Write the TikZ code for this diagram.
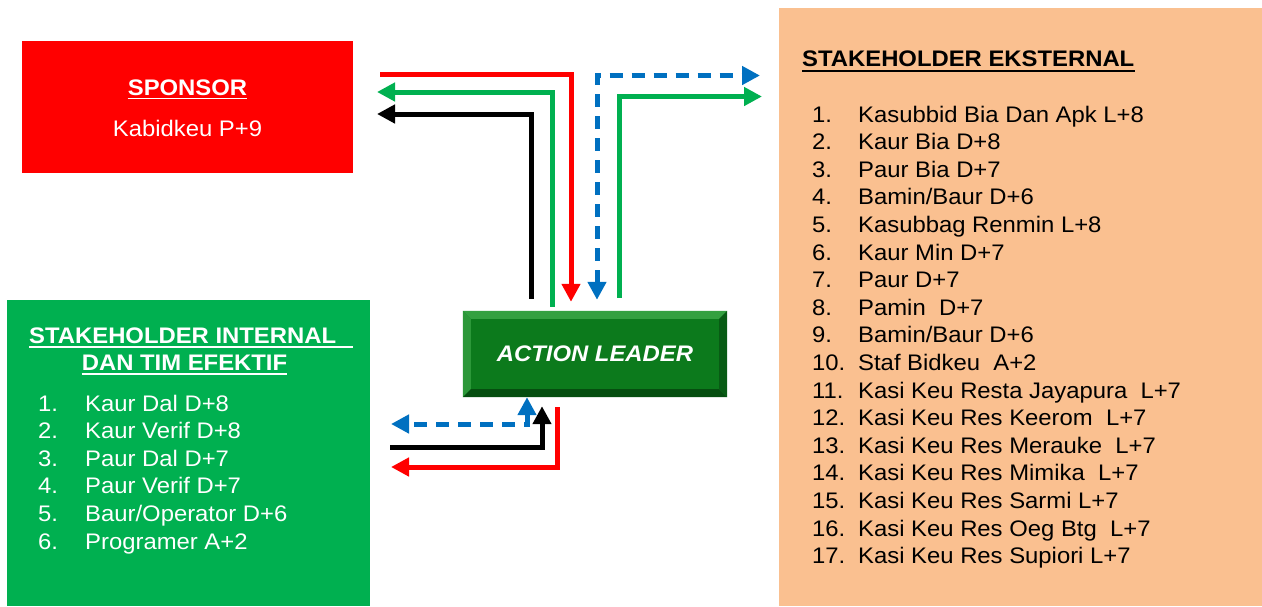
\documentclass[tikz,border=0pt]{standalone}
\usepackage{fontspec}
\setmainfont{Liberation Sans}[FakeStretch=1.06]
\usetikzlibrary{arrows.meta}
\definecolor{merahsp}{RGB}{255,0,0}
\definecolor{hijaukotak}{RGB}{0,176,80}
\definecolor{oranyemuda}{RGB}{250,192,144}
\definecolor{birupanah}{RGB}{0,112,192}
\definecolor{hijautua}{RGB}{12,122,28}
\definecolor{hijauterang}{RGB}{52,160,64}
\definecolor{hijaugelap}{RGB}{6,78,16}
\tikzset{
  kotak/.style={inner sep=0, draw=none},
  tulisan/.style={inner sep=0, anchor=base west},
  garisbawah/.style={line width=1.6pt},
  panah/.style={line width=5pt, -{Triangle[length=18pt,width=18pt]}},
  panahputus/.style={line width=5pt, dash pattern=on 13pt off 9pt,
    {Triangle[length=18pt,width=18pt]}-{Triangle[length=18pt,width=18pt]}}
}
\begin{document}
\begin{tikzpicture}[x=1pt, y=-1pt, font=\fontsize{22.5}{27}\selectfont]
		\useasboundingbox (0,0) rectangle (1262,606);
		% kotak-kotak
		\node[kotak, fill=merahsp, minimum width=331pt, minimum height=132pt] (sponsor) at (187.5,107) {};
		\node[kotak, fill=hijaukotak, minimum width=363pt, minimum height=306pt] (internal) at (188.5,453) {};
		\node[kotak, fill=oranyemuda, minimum width=483pt, minimum height=598pt] (eksternal) at (1020.5,307) {};
		\node[kotak, fill=hijautua, minimum width=264pt, minimum height=86pt] (leader) at (595,354) {};
		% bevel action leader
		\fill[hijauterang] (leader.north west) -- (leader.north east) -- ++(-8,8) -- ([xshift=8pt,yshift=-8pt]leader.north west) -- cycle;
		\fill[hijauterang!80!hijautua] (leader.north west) -- ([xshift=8pt,yshift=-8pt]leader.north west) -- ([xshift=8pt,yshift=8pt]leader.south west) -- (leader.south west) -- cycle;
		\fill[hijaugelap] (leader.south west) -- (leader.south east) -- ++(-8,-8) -- ([xshift=8pt,yshift=8pt]leader.south west) -- cycle;
		\fill[hijaugelap!70!hijautua] (leader.north east) -- ([xshift=-8pt,yshift=-8pt]leader.north east) -- ([xshift=-8pt,yshift=8pt]leader.south east) -- (leader.south east) -- cycle;
		\node[inner sep=0, text=white, font=\fontsize{22.5}{27}\selectfont\bfseries\itshape] (aksi) at (leader.center) {ACTION LEADER};
		% sponsor
		\node[inner sep=0, anchor=base, text=white, font=\fontsize{22.5}{27}\selectfont\bfseries] (judulsp) at (187.5,95) {SPONSOR};
		\draw[garisbawah, white] ([yshift=-3.5pt]judulsp.base west) -- ([yshift=-3.5pt]judulsp.base east);
		\node[inner sep=0, anchor=base, text=white] (kabid) at (187.5,136) {Kabidkeu P+9};
		% stakeholder internal
		\node[tulisan, text=white, font=\fontsize{22.5}{27}\selectfont\bfseries] (judulin) at (29,343) {STAKEHOLDER INTERNAL};
		\draw[garisbawah, white] ([yshift=-4pt]judulin.base west) -- ++(324,0);
		\node[inner sep=0, anchor=base, text=white, font=\fontsize{22.5}{27}\selectfont\bfseries] (judulin2) at (184.5,370) {DAN TIM EFEKTIF};
		\draw[garisbawah, white] ([yshift=-4pt]judulin2.base west) -- ([yshift=-4pt]judulin2.base east);
		\foreach \t [count=\i] in {Kaur Dal D+8, Kaur Verif D+8, Paur Dal D+7, Paur Verif D+7, Baur/Operator D+6, Programer A+2}
		{
			\node[tulisan, text=white] (nin\i) at (38,{411+(\i-1)*27.6}) {\i.};
			\node[tulisan, text=white] (in\i) at (85,{411+(\i-1)*27.6}) {\t};
		}
		% stakeholder eksternal
		\node[tulisan, font=\fontsize{22.5}{27}\selectfont\bfseries] (judulek) at (802,66.7) {STAKEHOLDER EKSTERNAL};
		\draw[garisbawah] ([yshift=-4pt]judulek.base west) -- ([yshift=-4pt]judulek.base east);
		\foreach \t [count=\i] in {Kasubbid Bia Dan Apk L+8, Kaur Bia D+8, Paur Bia D+7, Bamin/Baur D+6, Kasubbag Renmin L+8, Kaur Min D+7, Paur D+7, Pamin\ \ D+7, Bamin/Baur D+6, Staf Bidkeu\ \ A+2, Kasi Keu Resta Jayapura\ \ L+7, Kasi Keu Res Keerom\ \ L+7, Kasi Keu Res Merauke\ \ L+7, Kasi Keu Res Mimika\ \ L+7, Kasi Keu Res Sarmi L+7, Kasi Keu Res Oeg Btg\ \ L+7, Kasi Keu Res Supiori L+7}
		{
			\node[tulisan] (nek\i) at (812,{122+(\i-1)*27.6}) {\i.};
			\node[tulisan] (ek\i) at (858,{122+(\i-1)*27.6}) {\t};
		}
		% titik ujung panah
		\coordinate (merahA) at (380,74);
		\coordinate (merahB) at ([xshift=-24pt,yshift=9pt]leader.north);
		\coordinate (hijauA) at ([xshift=-43pt,yshift=4pt]leader.north);
		\coordinate (hijauB) at (377,92);
		\coordinate (hitamA) at ([xshift=-64pt,yshift=12pt]leader.north);
		\coordinate (hitamB) at (377,114);
		\coordinate (biruA) at ([xshift=2pt,yshift=11pt]leader.north);
		\coordinate (biruB) at (760,75.5);
		\coordinate (hijauC) at ([xshift=24pt,yshift=13pt]leader.north);
		\coordinate (hijauD) at (762,96.5);
		\coordinate (biruC) at ([xshift=-68pt]leader.south);
		\coordinate (biruD) at (391,424);
		\coordinate (hitamC) at (390,447);
		\coordinate (hitamD) at ([xshift=-53pt,yshift=-9pt]leader.south);
		\coordinate (merahC) at ([xshift=-38pt,yshift=-10pt]leader.south);
		\coordinate (merahD) at (391,467);
		% panah atas
		\draw[panah, merahsp] (merahA) -| (merahB);
		\draw[panah, hijaukotak] (hijauA) |- (hijauB);
		\draw[panah, black] (hitamA) |- (hitamB);
		\draw[panahputus, birupanah] (biruA) |- (biruB);
		\draw[panah, hijaukotak] (hijauC) |- (hijauD);
		% panah bawah
		\draw[panahputus, birupanah] (biruC) |- (biruD);
		\draw[panah, black] (hitamC) -| (hitamD);
		\draw[panah, merahsp] (merahC) |- (merahD);
	\end{tikzpicture}
\end{document}
